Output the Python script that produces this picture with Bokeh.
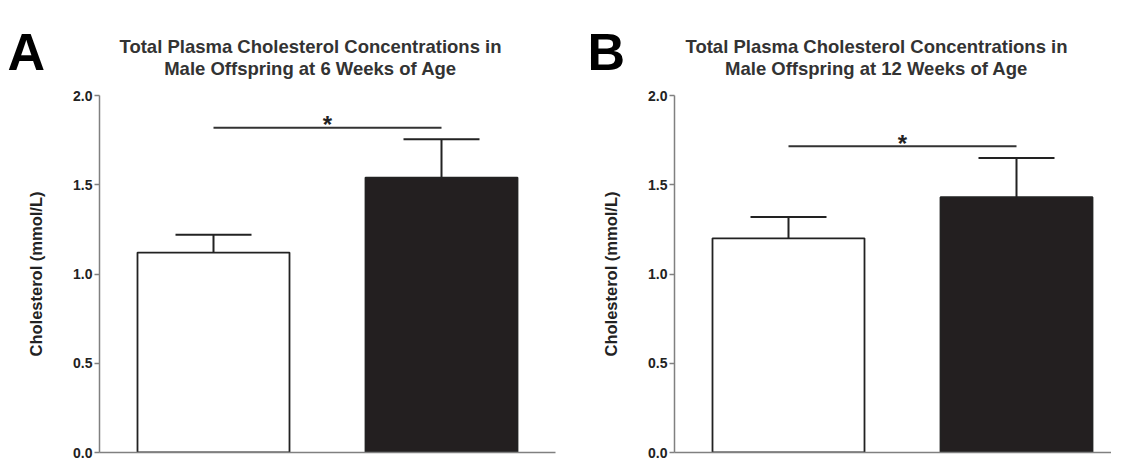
from bokeh.plotting import figure
from bokeh.layouts import row, column
from bokeh.models import Range1d, FixedTicker, Label, NumeralTickFormatter
from bokeh.core.properties import value
from bokeh.embed import file_html
from bokeh.resources import INLINE

# ---------------- data ----------------
groups = ["Control", "Treatment"]
bar_fill = ["#ffffff", "#231f20"]
panel_letters = ["A", "B"]
titles_6wk = ["Total Plasma Cholesterol Concentrations in", "Male Offspring at 6 Weeks of Age"]
titles_12wk = ["Total Plasma Cholesterol Concentrations in", "Male Offspring at 12 Weeks of Age"]
chol_6wk = [1.12, 1.54]
sem_6wk = [0.10, 0.215]
chol_12wk = [1.20, 1.43]
sem_12wk = [0.12, 0.22]
sig_level_6wk = 1.82
sig_level_12wk = 1.715
sig_mark = "*"
y_ticks = [0.0, 0.5, 1.0, 1.5, 2.0]
y_max = 2.0
y_label = "Cholesterol (mmol/L)"

# ---------------- style / layout ----------------
FONT = "Liberation Sans"
PX_PER_X = 228.0
STRIP_H = 80
CHART_TOP = 15
FRAME_H = 357
CHART_BOTTOM = 7
CHART_H = CHART_TOP + FRAME_H + CHART_BOTTOM
AXIS_GRAY = "#808080"
INK = "#222222"


def make_strip(letter, letter_x, title_lines, title_x, fig_w):
    s = figure(width=fig_w, height=STRIP_H, output_backend="svg", toolbar_location=None,
               x_range=Range1d(0, fig_w), y_range=Range1d(STRIP_H, 0),
               x_axis_type=None, y_axis_type=None,
               min_border_left=0, min_border_right=0, min_border_top=0, min_border_bottom=0,
               background_fill_color="white", border_fill_color="white")
    s.outline_line_color = None
    s.xgrid.visible = False
    s.ygrid.visible = False
    for line, ty in zip(title_lines, [46, 68]):
        s.add_layout(Label(x=title_x, y=ty, text=line, text_align="center",
                           text_baseline="alphabetic", text_font=FONT,
                           text_font_style="bold", text_font_size="18.5px",
                           text_color="#333333"))
    s.add_layout(Label(x=letter_x, y=51, text=letter, text_align="left",
                       text_baseline="alphabetic", text_font=FONT,
                       text_font_style="bold", text_font_size="52px",
                       text_color="#000000"))
    return s


def make_chart(means, sems, sig_level, fig_w, frame_w, mbr):
    p = figure(width=fig_w, height=CHART_H, output_backend="svg", toolbar_location=None,
               x_range=Range1d(0, frame_w / PX_PER_X), y_range=Range1d(0, y_max),
               min_border_left=99, min_border_right=mbr, min_border_top=CHART_TOP,
               min_border_bottom=CHART_BOTTOM, background_fill_color="white",
               border_fill_color="white")
    p.outline_line_color = None
    p.xgrid.visible = False
    p.ygrid.visible = False

    xs = [i + 0.5 for i in range(len(groups))]
    tops = [m + s for m, s in zip(means, sems)]
    bar_w = 2.0 / 3.0
    cap_half = bar_w / 4.0

    p.vbar(x=xs, top=means, bottom=0, width=bar_w, fill_color=bar_fill,
           line_color=INK, line_width=1.8)
    p.segment(x0=xs, y0=means, x1=xs, y1=tops, line_color=INK, line_width=2)
    p.segment(x0=[x - cap_half for x in xs], y0=tops,
              x1=[x + cap_half for x in xs], y1=tops, line_color=INK, line_width=2)

    # significance bar
    p.segment(x0=[xs[0]], y0=[sig_level], x1=[xs[1]], y1=[sig_level],
              line_color="#333333", line_width=2)
    p.text(x=[(xs[0] + xs[1]) / 2], y=[sig_level], text=[sig_mark],
           text_align="center", text_baseline="alphabetic",
           text_font=value(FONT), text_font_style="bold", text_font_size="24px",
           text_color="#222222", y_offset=-3)

    # y axis
    ya = p.yaxis[0]
    ya.ticker = FixedTicker(ticks=y_ticks)
    ya.formatter = NumeralTickFormatter(format="0.0")
    ya.axis_line_color = AXIS_GRAY
    ya.axis_line_width = 1.5
    ya.major_tick_line_color = AXIS_GRAY
    ya.major_tick_line_width = 1.5
    ya.major_tick_out = 5
    ya.major_tick_in = 0
    ya.minor_tick_line_color = None
    ya.major_label_text_font = FONT
    ya.major_label_text_font_style = "bold"
    ya.major_label_text_font_size = "14px"
    ya.major_label_text_color = "#222222"
    ya.major_label_standoff = 2
    ya.axis_label = y_label
    ya.axis_label_text_font = FONT
    ya.axis_label_text_font_style = "bold"
    ya.axis_label_text_font_size = "16.5px"
    ya.axis_label_text_color = "#222222"
    ya.axis_label_standoff = 25

    # x axis (line only)
    xa = p.xaxis[0]
    xa.ticker = FixedTicker(ticks=[])
    xa.axis_line_color = AXIS_GRAY
    xa.axis_line_width = 1.5
    xa.major_tick_out = 0
    xa.major_tick_in = 0
    xa.minor_tick_out = 0
    xa.minor_tick_in = 0
    xa.major_tick_line_color = None
    xa.minor_tick_line_color = None
    xa.major_label_text_font_size = "0px"
    xa.major_label_standoff = 0
    return p


sa = make_strip(panel_letters[0], 7, titles_6wk, 310, 575)
pa = make_chart(chol_6wk, sem_6wk, sig_level_6wk, 575, 456, 20)
sb = make_strip(panel_letters[1], 12, titles_12wk, 301, 536)
pb = make_chart(chol_12wk, sem_12wk, sig_level_12wk, 536, 437, 0)

layout = column(row(sa, sb), row(pa, pb))
open("out.html", "w").write(file_html(layout, INLINE))
